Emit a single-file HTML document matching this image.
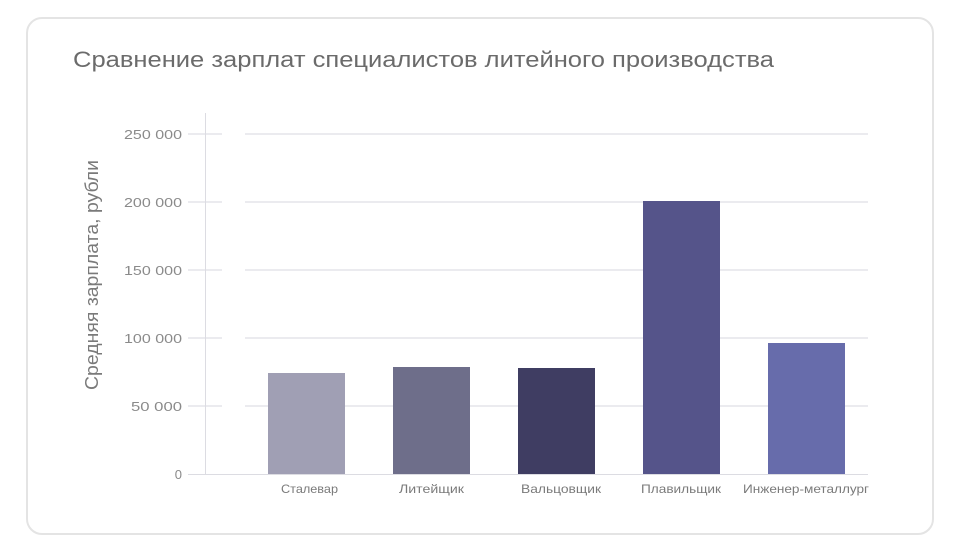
<!DOCTYPE html>
<html><head><meta charset="utf-8"><style>
html,body{margin:0;padding:0;background:#fff;}
body{width:961px;height:550px;position:relative;overflow:hidden;font-family:"Liberation Sans",sans-serif;}
.card{position:absolute;left:26px;top:17px;width:908px;height:518px;border:2px solid #e4e4e4;border-radius:16px;box-sizing:border-box;}
</style></head><body>
<div class="card"></div>
<svg width="961" height="550" style="position:absolute;left:0;top:0" font-family="Liberation Sans, sans-serif">
<text x="73" y="67" font-size="22" fill="#6b6b6b" textLength="701" lengthAdjust="spacingAndGlyphs">Сравнение зарплат специалистов литейного производства</text>
<g stroke="#ebebef" stroke-width="2">
<line x1="188" y1="134" x2="222" y2="134"/><line x1="245" y1="134" x2="868" y2="134"/>
<line x1="188" y1="202" x2="222" y2="202"/><line x1="245" y1="202" x2="868" y2="202"/>
<line x1="188" y1="270" x2="222" y2="270"/><line x1="245" y1="270" x2="868" y2="270"/>
<line x1="188" y1="338" x2="222" y2="338"/><line x1="245" y1="338" x2="868" y2="338"/>
<line x1="188" y1="406" x2="222" y2="406"/><line x1="245" y1="406" x2="868" y2="406"/>
</g>
<line x1="205.5" y1="113" x2="205.5" y2="474" stroke="#dcdce2" stroke-width="1"/>
<g font-size="13" fill="#8a8a8a">
<text x="124" y="139" textLength="58" lengthAdjust="spacingAndGlyphs">250 000</text>
<text x="124" y="207" textLength="58" lengthAdjust="spacingAndGlyphs">200 000</text>
<text x="124" y="275" textLength="58" lengthAdjust="spacingAndGlyphs">150 000</text>
<text x="124" y="343" textLength="58" lengthAdjust="spacingAndGlyphs">100 000</text>
<text x="131" y="411" textLength="51" lengthAdjust="spacingAndGlyphs">50 000</text>
<text x="182" y="479" text-anchor="end">0</text>
</g>
<text x="-390" y="98" transform="rotate(-90)" font-size="18" fill="#7a7a7a" textLength="230" lengthAdjust="spacingAndGlyphs">Средняя зарплата, рубли</text>
<rect x="268" y="373" width="77" height="101" fill="#a09fb4"/>
<rect x="393" y="367" width="77" height="107" fill="#6e6e8a"/>
<rect x="518" y="368" width="77" height="106" fill="#3f3d62"/>
<rect x="643" y="201" width="77" height="273" fill="#55548a"/>
<rect x="768" y="343" width="77" height="131" fill="#676cab"/>
<line x1="188" y1="474.5" x2="868" y2="474.5" stroke="#dcdce2" stroke-width="1"/>
<g font-size="12" fill="#7a7a7a">
<text x="281" y="493" textLength="57" lengthAdjust="spacingAndGlyphs">Сталевар</text>
<text x="399" y="493" textLength="65" lengthAdjust="spacingAndGlyphs">Литейщик</text>
<text x="521" y="493" textLength="80" lengthAdjust="spacingAndGlyphs">Вальцовщик</text>
<text x="641" y="493" textLength="80" lengthAdjust="spacingAndGlyphs">Плавильщик</text>
<text x="743" y="493" textLength="126" lengthAdjust="spacingAndGlyphs">Инженер-металлург</text>
</g>
</svg>
</body></html>
